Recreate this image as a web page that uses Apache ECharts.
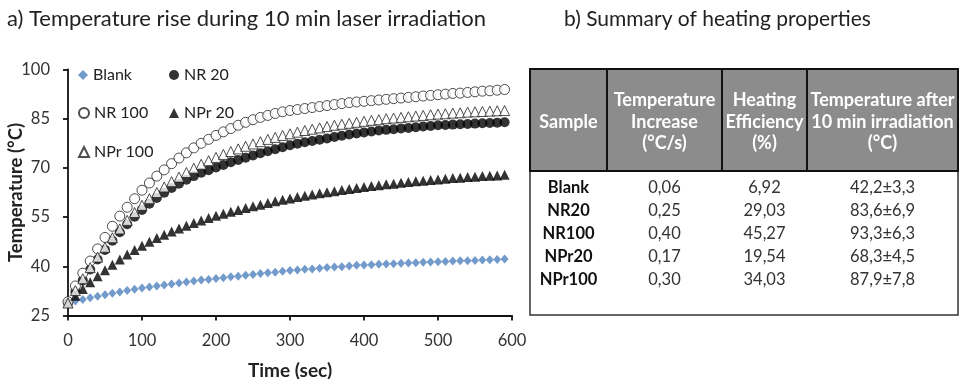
<!DOCTYPE html>
<html>
<head>
<meta charset="utf-8">
<script src="https://cdn.jsdelivr.net/npm/echarts@6/dist/echarts.min.js"></script>
<style>
html,body{margin:0;padding:0;background:#fff;}
#chart{width:959px;height:379px;}
</style>
</head>
<body>
<div id="chart"></div>
<script>
// ---------- DATA ----------
const titleA = "a) Temperature rise during 10 min laser irradiation";
const titleB = "b) Summary of heating properties";
const xAxisName = "Time (sec)";
const yAxisName = "Temperature (°C)";
const seriesNames = ["Blank", "NR 20", "NR 100", "NPr 20", "NPr 100"];

const times = [0,10,20,30,40,50,60,70,80,90,100,110,120,130,140,150,160,170,180,190,
  200,210,220,230,240,250,260,270,280,290,300,310,320,330,340,350,360,370,380,390,
  400,410,420,430,440,450,460,470,480,490,500,510,520,530,540,550,560,570,580,590];

const blank = [28.8,29.4,29.9,30.4,30.9,31.3,31.8,32.2,32.6,33.0,33.4,33.7,34.0,34.3,34.6,34.9,35.2,35.5,35.8,36.0,
  36.3,36.5,36.8,37.0,37.3,37.5,37.8,38.0,38.2,38.5,38.7,38.9,39.1,39.2,39.4,39.6,39.8,39.9,40.1,40.3,
  40.4,40.5,40.6,40.7,40.8,40.9,41.0,41.1,41.2,41.3,41.4,41.5,41.6,41.7,41.7,41.8,41.9,42.0,42.1,42.2];

const nr20 = [28.8,32.3,35.7,39.0,42.1,45.0,47.8,50.4,52.8,55.1,57.2,59.1,60.8,62.4,63.9,65.2,66.4,67.5,68.5,69.3,
  70.1,70.9,71.7,72.4,73.1,73.8,74.5,75.1,75.7,76.3,76.9,77.4,77.8,78.2,78.6,79.0,79.4,79.8,80.2,80.5,
  80.8,81.1,81.4,81.6,81.8,82.0,82.2,82.4,82.6,82.8,83.0,83.1,83.2,83.3,83.4,83.5,83.6,83.7,83.8,83.9];

const nr100 = [29.2,34.0,37.9,41.6,45.3,48.8,52.2,55.3,58.0,60.6,63.2,65.4,67.5,69.4,71.3,73.0,74.6,76.1,77.5,78.7,
  79.9,81.0,82.0,83.0,83.9,84.7,85.4,86.0,86.6,87.1,87.5,87.8,88.1,88.4,88.7,89.0,89.3,89.6,89.9,90.1,
  90.3,90.5,90.7,90.9,91.1,91.3,91.5,91.7,91.9,92.1,92.3,92.5,92.7,92.8,93.0,93.2,93.4,93.5,93.7,93.9];

const npr20 = [28.8,31.0,33.1,35.1,37.0,38.8,40.5,42.1,43.6,45.0,46.3,47.5,48.6,49.6,50.6,51.5,52.4,53.2,54.0,54.7,
  55.4,56.0,56.6,57.2,57.8,58.3,58.8,59.3,59.8,60.3,60.7,61.1,61.5,61.9,62.3,62.6,62.9,63.3,63.6,63.9,
  64.2,64.5,64.7,65.0,65.2,65.5,65.7,65.9,66.1,66.3,66.5,66.7,66.9,67.0,67.2,67.3,67.5,67.6,67.7,67.9];

const npr100 = [28.8,32.6,36.2,39.6,42.8,45.8,48.7,51.4,54.0,56.4,58.6,60.6,62.5,64.2,65.8,67.2,68.6,69.9,71.1,72.2,
  73.2,74.1,75.0,75.8,76.6,77.3,78.0,78.7,79.3,79.9,80.4,80.9,81.4,81.8,82.2,82.6,83.0,83.3,83.6,83.9,
  84.2,84.5,84.7,85.0,85.2,85.4,85.6,85.8,86.0,86.2,86.4,86.5,86.7,86.8,87.0,87.1,87.2,87.3,87.4,87.5];

// table data
const tableHeaders = ["Sample", "Temperature\nIncrease\n(°C/s)", "Heating\nEfficiency\n(%)", "Temperature after\n10 min irradiation\n(°C)"];
const samples = ["Blank", "NR20", "NR100", "NPr20", "NPr100"];
const tempIncrease = [0.06, 0.25, 0.40, 0.17, 0.30];
const heatingEfficiency = [6.92, 29.03, 45.27, 19.54, 34.03];
const tempAfterMean = [42.2, 83.6, 93.3, 68.3, 87.9];
const tempAfterSd = [3.3, 6.9, 6.3, 4.5, 7.8];

// ---------- CHART ----------
const FONT = 'Lato, "Open Sans", sans-serif';
const chart = echarts.init(document.getElementById('chart'), null, {renderer: 'canvas'});

function pairs(vals) { return times.map((t, i) => [t, vals[i]]); }
const comma = (v, d) => v.toFixed(d).replace('.', ',');

const seriesData = [blank, nr20, nr100, npr20, npr100];
const seriesStyle = [
  {symbol: 'diamond', symbolSize: [8, 9], itemStyle: {color: '#4F81BD'}},
  {symbol: 'circle', symbolSize: 10, itemStyle: {color: '#000'}},
  {symbol: 'circle', symbolSize: 10, itemStyle: {color: '#fff', borderColor: '#222', borderWidth: 1}},
  {symbol: 'triangle', symbolSize: 10, itemStyle: {color: '#000'}},
  {symbol: 'triangle', symbolSize: 10, itemStyle: {color: '#fff', borderColor: '#222', borderWidth: 1}}
];

const series = seriesNames.map((name, i) => Object.assign({
  name: name,
  type: 'scatter',
  clip: false,
  data: pairs(seriesData[i]),
  emphasis: {disabled: true}
}, seriesStyle[i]));

const legendPos = [[78, 67], [169, 67], [78, 105], [169, 105], [78, 144]];
const legends = seriesNames.map((name, i) => ({
  data: [name],
  left: legendPos[i][0],
  top: legendPos[i][1],
  itemWidth: 10,
  itemHeight: 10,
  itemGap: 0,
  padding: 0,
  selectedMode: false,
  textStyle: {fontSize: 16, fontFamily: FONT, color: '#222'}
}));

// table layout
const colX = [530, 607, 722, 807, 958];
const headTop = 69, headBottom = 171, bodyBottom = 315;
const rowY = [188, 211, 234, 257, 280];
const graphics = [];
graphics.push({type: 'rect', shape: {x: colX[0], y: headBottom, width: colX[4] - colX[0], height: bodyBottom - headBottom},
  style: {fill: '#fff', stroke: '#333', lineWidth: 1.5}});
for (let c = 0; c < 4; c++) {
  graphics.push({type: 'rect', shape: {x: colX[c], y: headTop, width: colX[c + 1] - colX[c], height: headBottom - headTop},
    style: {fill: '#8c8c8c', stroke: '#111', lineWidth: 2}});
  graphics.push({type: 'text', x: (colX[c] + colX[c + 1]) / 2, y: (headTop + headBottom) / 2 + 2,
    style: {text: tableHeaders[c], fill: '#fff', font: 'bold 18px ' + FONT, align: 'center', verticalAlign: 'middle', lineHeight: 21.5}});
}
samples.forEach((s, r) => {
  const cells = [s, comma(tempIncrease[r], 2), comma(heatingEfficiency[r], 2),
    comma(tempAfterMean[r], 1) + '±' + comma(tempAfterSd[r], 1)];
  cells.forEach((txt, c) => {
    graphics.push({type: 'text', x: (colX[c] + colX[c + 1]) / 2, y: rowY[r],
      style: {text: txt, fill: c === 0 ? '#111' : '#333', font: (c === 0 ? 'bold ' : '') + '16.5px ' + FONT,
        align: 'center', verticalAlign: 'middle'}});
  });
});

const axisText = {fontSize: 16.5, fontFamily: FONT, color: '#333'};
const option = {
  backgroundColor: '#fff',
  animation: false,
  title: [
    {text: titleA, left: 7, top: 8, padding: 0, textStyle: {fontSize: 22, fontWeight: 'normal', fontFamily: FONT, color: '#222'}},
    {text: titleB, left: 564, top: 9, padding: 0, textStyle: {fontSize: 21, fontWeight: 'normal', fontFamily: FONT, color: '#222'}}
  ],
  legend: legends,
  grid: {left: 68, right: 447, top: 69.5, bottom: 63.5, containLabel: false, outerBoundsMode: 'none'},
  xAxis: {
    type: 'value', min: 0, max: 600, interval: 100,
    name: xAxisName, nameLocation: 'middle', nameGap: 46,
    nameTextStyle: {fontSize: 19, fontWeight: 'bold', fontFamily: FONT, color: '#222'},
    axisLine: {show: true, onZero: false, lineStyle: {color: '#111', width: 1.8}},
    axisTick: {show: true, inside: false, length: 5, lineStyle: {color: '#111', width: 1.8}},
    axisLabel: Object.assign({margin: 17}, axisText),
    splitLine: {show: false}
  },
  yAxis: {
    type: 'value', min: 25, max: 100, interval: 15,
    name: yAxisName, nameLocation: 'middle', nameGap: 42, nameMoveOverlap: false,
    nameTextStyle: {fontSize: 18.5, fontWeight: 'bold', fontFamily: FONT, color: '#222'},
    axisLine: {show: true, onZero: false, lineStyle: {color: '#111', width: 1.8}},
    axisTick: {show: true, inside: false, length: 5, lineStyle: {color: '#111', width: 1.8}},
    axisLabel: Object.assign({margin: 18}, axisText),
    splitLine: {show: false}
  },
  graphic: graphics,
  series: series
};
chart.setOption(option);
</script>
</body>
</html>
